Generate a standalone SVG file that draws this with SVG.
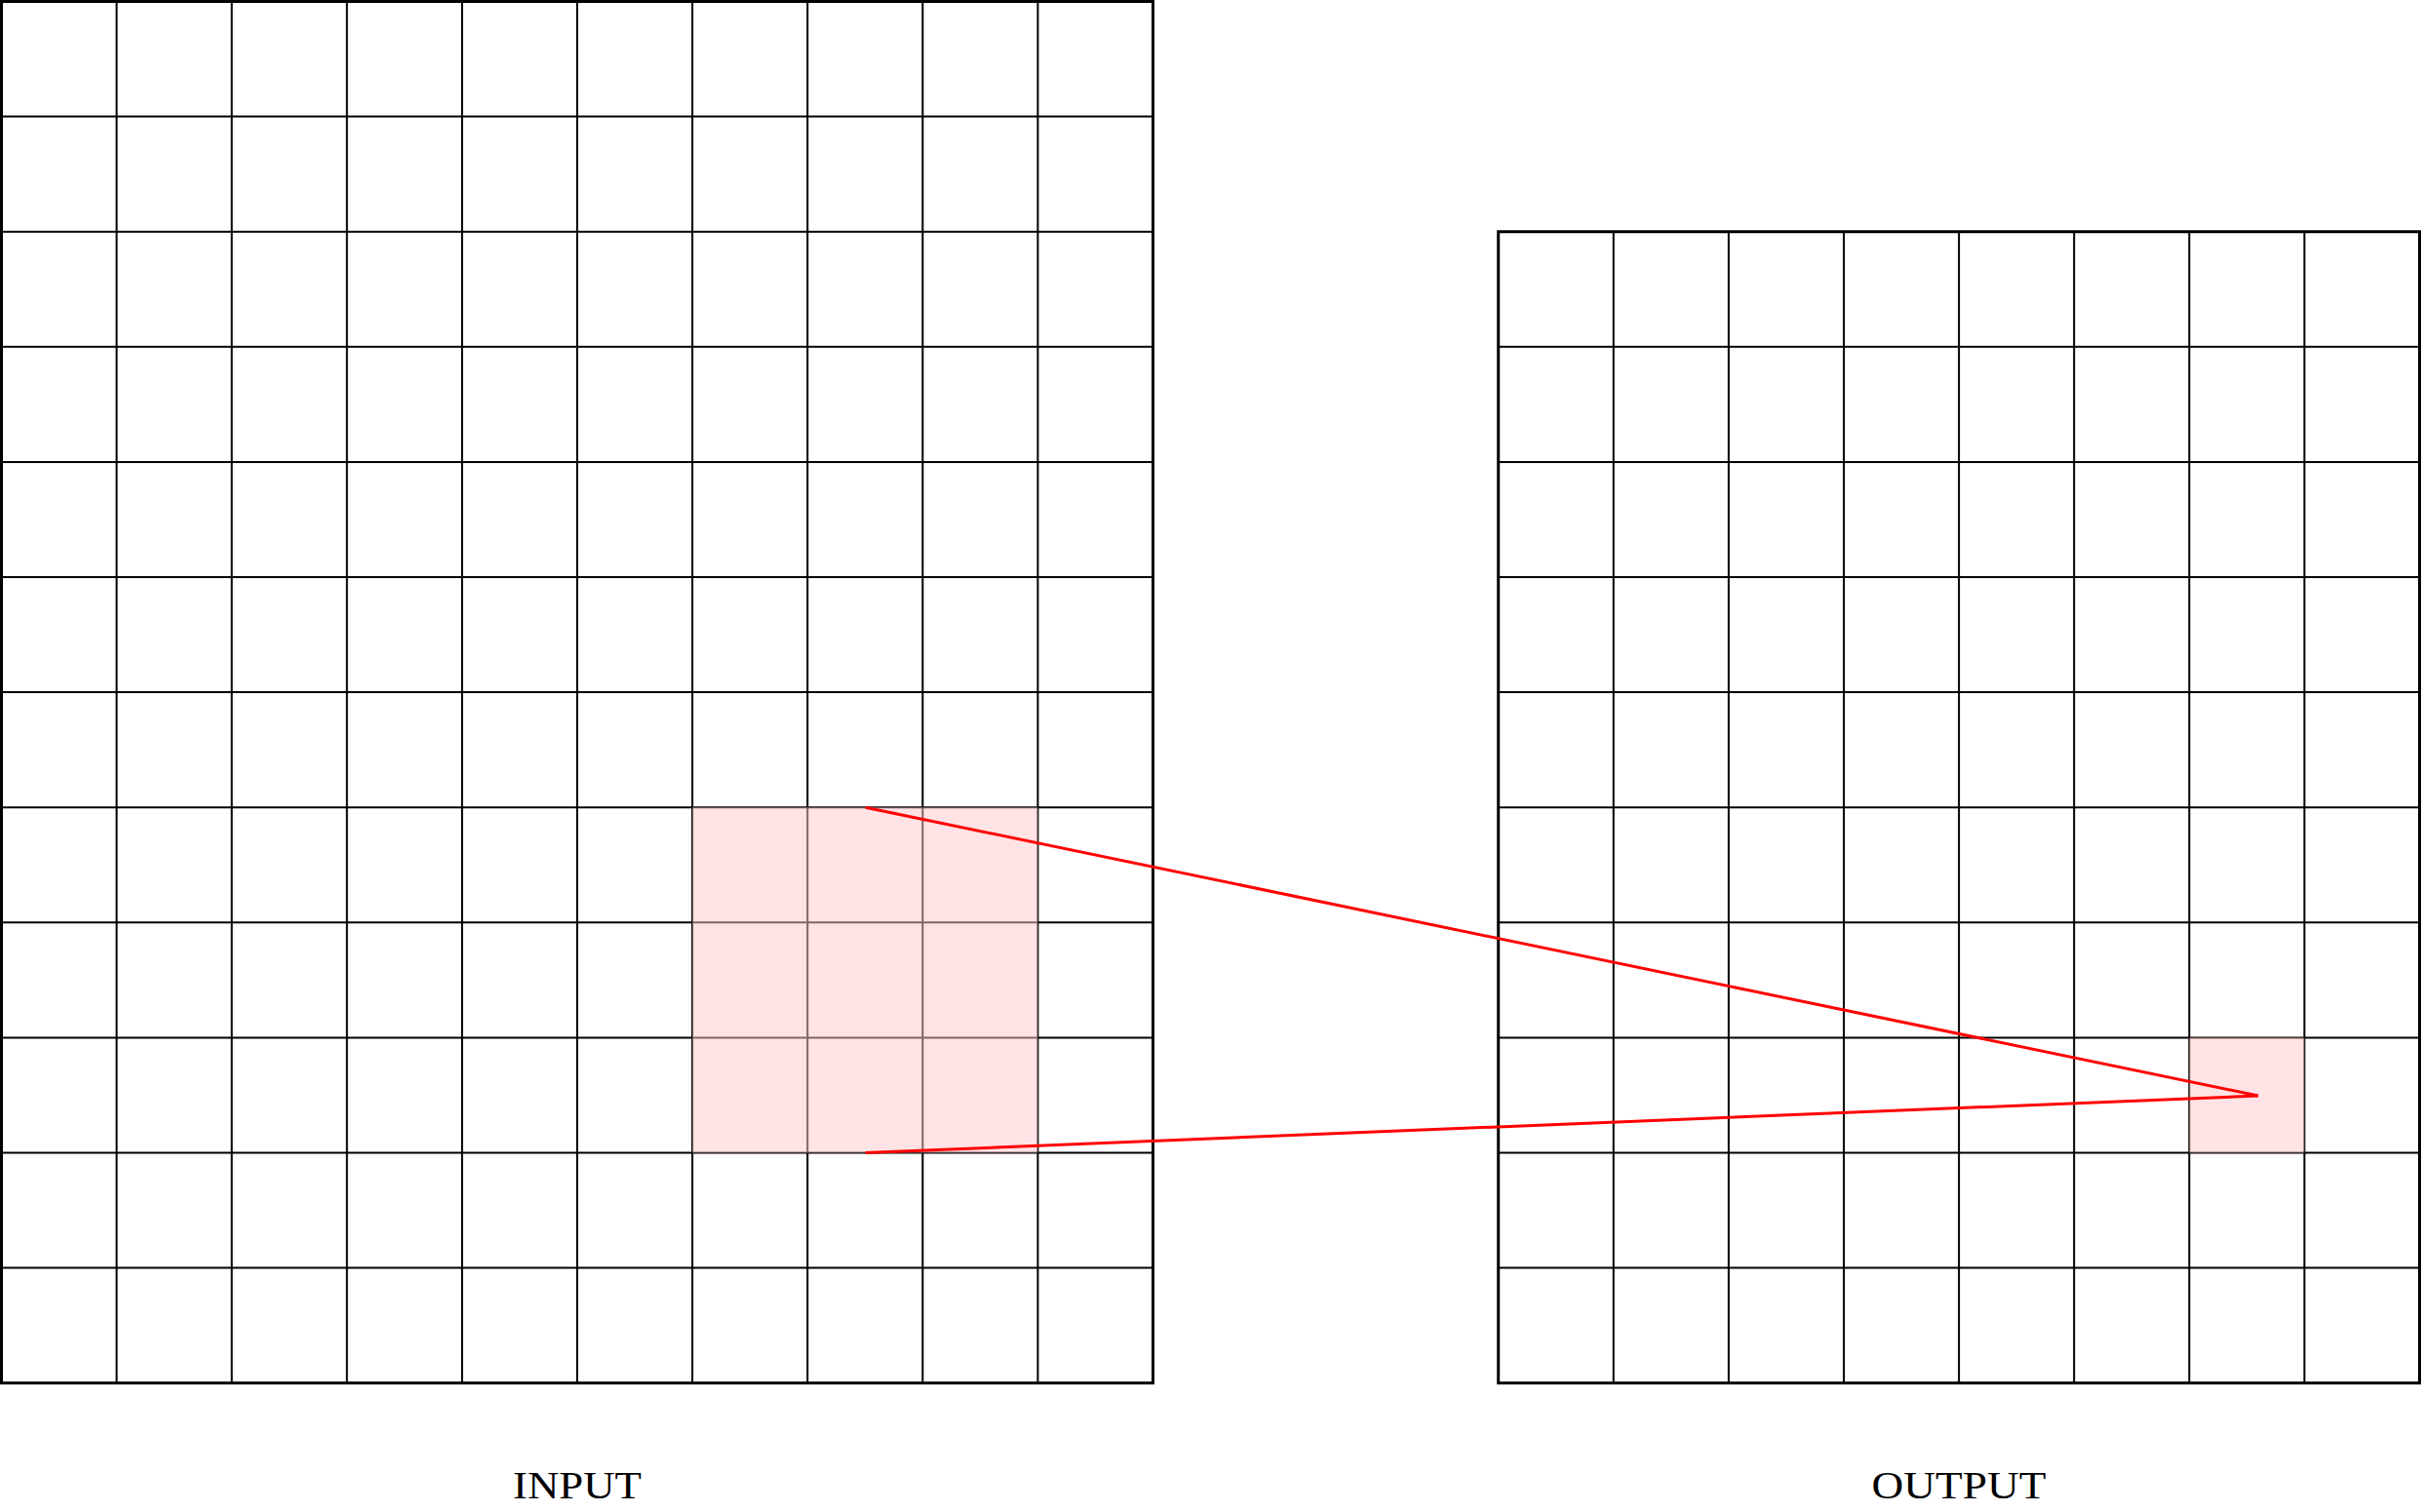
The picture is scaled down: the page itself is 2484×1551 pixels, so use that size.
<svg xmlns="http://www.w3.org/2000/svg" width="2484" height="1551" viewBox="0 0 2484 1551">
<style>
.inner{fill:none;stroke:#000;stroke-width:2}
.outer{fill:none;stroke:#000;stroke-width:3}
.hl{fill:#FFC8CC;fill-opacity:0.5;stroke:none}
.conn{fill:none;stroke:#FF0000;stroke-width:3}
.lbl{font-family:"Liberation Serif","DejaVu Serif",serif;font-size:41px;fill:#000;text-anchor:middle}
</style>
<rect width="2484" height="1551" fill="#fff"/>
<g id="input-grid">
<path class="inner" d="M119.6 1.5V1418.7M237.7 1.5V1418.7M355.8 1.5V1418.7M473.9 1.5V1418.7M592 1.5V1418.7M710.1 1.5V1418.7M828.2 1.5V1418.7M946.3 1.5V1418.7M1064.4 1.5V1418.7M1.5 119.6H1182.5M1.5 237.7H1182.5M1.5 355.8H1182.5M1.5 473.9H1182.5M1.5 592H1182.5M1.5 710.1H1182.5M1.5 828.2H1182.5M1.5 946.3H1182.5M1.5 1064.4H1182.5M1.5 1182.5H1182.5M1.5 1300.6H1182.5"/>
<rect class="outer" x="1.5" y="1.5" width="1181" height="1417.2"/>
<rect id="input-window" class="hl" x="710.1" y="828.2" width="354.3" height="354.3"/>
<text class="lbl" x="592" y="1537" textLength="132" lengthAdjust="spacingAndGlyphs">INPUT</text>
</g>
<g id="output-grid">
<path class="inner" d="M1654.8 237.7V1418.7M1772.9 237.7V1418.7M1891 237.7V1418.7M2009.1 237.7V1418.7M2127.2 237.7V1418.7M2245.3 237.7V1418.7M2363.4 237.7V1418.7M1536.7 355.8H2481.5M1536.7 473.9H2481.5M1536.7 592H2481.5M1536.7 710.1H2481.5M1536.7 828.2H2481.5M1536.7 946.3H2481.5M1536.7 1064.4H2481.5M1536.7 1182.5H2481.5M1536.7 1300.6H2481.5"/>
<rect class="outer" x="1536.7" y="237.7" width="944.8" height="1181"/>
<rect id="output-cell" class="hl" x="2245.3" y="1064.4" width="118.1" height="118.1"/>
<text class="lbl" x="2009" y="1537" textLength="179" lengthAdjust="spacingAndGlyphs">OUTPUT</text>
</g>
<g id="connectors">
<line class="conn" x1="887.5" y1="828.2" x2="2316" y2="1124"/>
<line class="conn" x1="887.5" y1="1182.5" x2="2316" y2="1124"/>
</g>
</svg>
